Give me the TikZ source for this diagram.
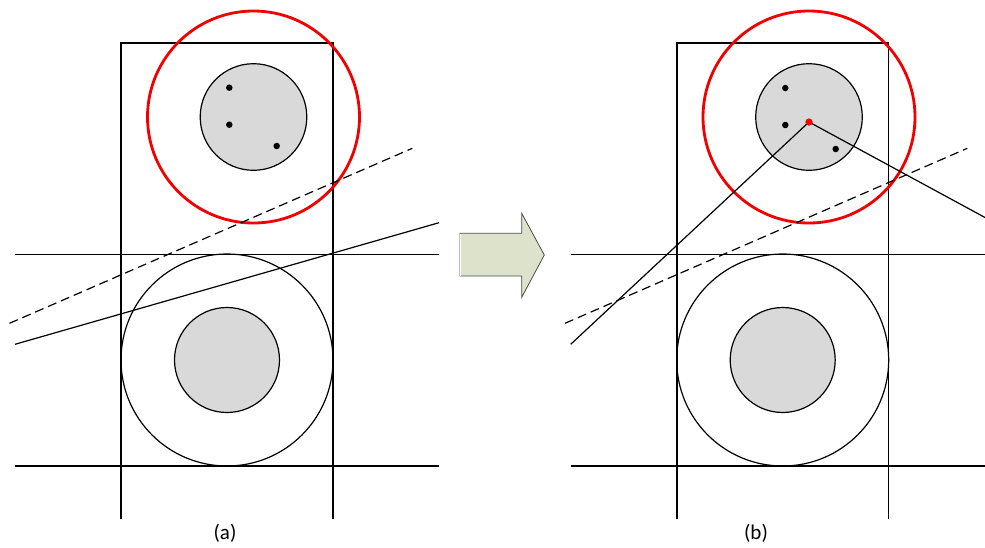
\documentclass[tikz,border=0pt]{standalone}
\usepackage{fontspec}
\setmainfont{Carlito}
\begin{document}
\begin{tikzpicture}[x=1pt,y=-1pt,
  thinline/.style={line width=1.2pt, black},
  redcirc/.style={line width=2.8pt, red!95!black},
  graydisk/.style={line width=1.2pt, fill=black!15, draw=black},
  dot/.style={circle, fill=black, inner sep=0pt, minimum size=6.5pt},
  reddot/.style={circle, fill=red, inner sep=0pt, minimum size=7pt},
  lbl/.style={font=\fontsize{21}{24}\selectfont, inner sep=0pt}]
\useasboundingbox (0,0) rectangle (985,547);
\fill[white] (0,0) rectangle (985,547);

% ---------- panel (a) ----------
\coordinate (aTL) at (121,43);
\coordinate (aTR) at (333,43);
\coordinate (aBL) at (121,519);
\coordinate (aBR) at (333,519);
\draw[thinline] (aBL) -- (aTL) -- (aTR) -- (aBR);
\coordinate (aH1a) at (15,254.5);
\coordinate (aH1b) at (439,254.5);
\coordinate (aH2a) at (15,466);
\coordinate (aH2b) at (439,466);
\draw[thinline] (aH1a) -- (aH1b);
\draw[thinline] (aH2a) -- (aH2b);
\coordinate (aBig) at (227,360);
\draw[thinline] (aBig) circle[radius=106];
\draw[graydisk] (aBig) circle[radius=52.5];
\coordinate (aTop) at (253.5,117);
\draw[graydisk] (aTop) circle[radius=53.3];
\node[dot] (ad1) at (229.3,87.7) {};
\node[dot] (ad2) at (229.3,124.7) {};
\node[dot] (ad3) at (276.7,146) {};
\draw[redcirc] (aTop) circle[radius=106];
\coordinate (aDa) at (9.5,323.3);
\coordinate (aDb) at (412.3,148.3);
\draw[thinline, dash pattern=on 9pt off 5pt] (aDa) -- (aDb);
\coordinate (aSa) at (15,344.3);
\coordinate (aSb) at (439,222.7);
\draw[thinline] (aSa) -- (aSb);
\node[lbl] (la) at (225,533) {(a)};

% ---------- arrow ----------
\draw[fill={rgb,255:red,221;green,226;blue,203}, draw=black!70, line width=0.8pt]
  (460,233.3) -- (521.7,233.3) -- (521.7,213.3) -- (544.3,255) -- (521.7,297.3) -- (521.7,276) -- (460,276) -- cycle;
\draw[white, line width=1pt] (460,234) -- (460,275.5);

% ---------- panel (b) ----------
\coordinate (bTL) at (677,43);
\coordinate (bTR) at (888.5,43);
\coordinate (bBL) at (677,519);
\coordinate (bBR) at (888.5,519);
\draw[thinline] (bBL) -- (bTL) -- (bTR) -- (bBR);
\coordinate (bH1a) at (570.5,254.5);
\coordinate (bH1b) at (985,254.5);
\coordinate (bH2a) at (570.5,466);
\coordinate (bH2b) at (985,466);
\draw[thinline] (bH1a) -- (bH1b);
\draw[thinline] (bH2a) -- (bH2b);
\coordinate (bBig) at (782.7,360);
\draw[thinline] (bBig) circle[radius=106];
\draw[graydisk] (bBig) circle[radius=52.5];
\coordinate (bTop) at (809,117);
\draw[graydisk] (bTop) circle[radius=53.3];
\node[dot] (bd1) at (785.3,88) {};
\node[dot] (bd2) at (785.3,125) {};
\node[dot] (bd3) at (835.7,149) {};
\draw[redcirc] (bTop) circle[radius=106];
\coordinate (bDa) at (565,323.3);
\coordinate (bDb) at (967.3,148.3);
\draw[thinline, dash pattern=on 9pt off 5pt] (bDa) -- (bDb);
\node[reddot] (bc) at (809,122) {};
\coordinate (bL1) at (570.7,344.3);
\coordinate (bL2) at (985,217.5);
\draw[thinline] (bc.center) -- (bL1);
\draw[thinline] (bc.center) -- (bL2);
\node[reddot] at (bc) {};
\node[lbl] (lb) at (756,533) {(b)};
\end{tikzpicture}
\end{document}
